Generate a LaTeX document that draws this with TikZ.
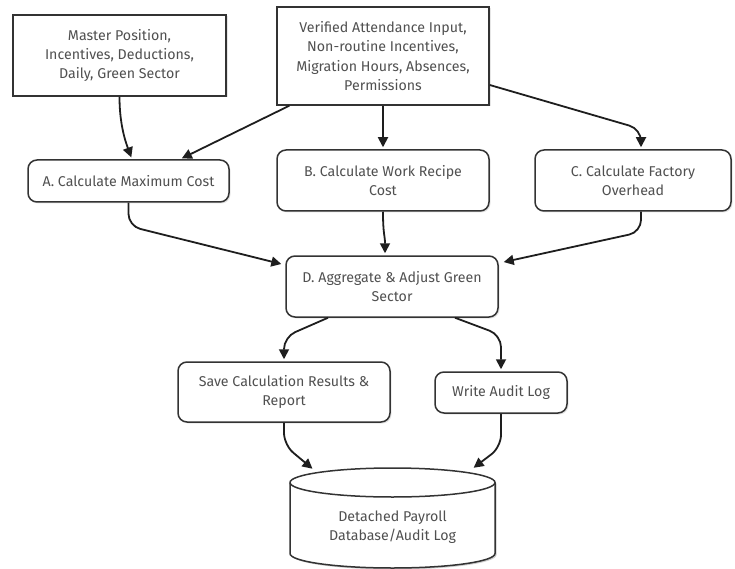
\documentclass[tikz,border=0pt]{standalone}
\usepackage{fontspec}
\setmainfont{Fira Sans}
\usetikzlibrary{arrows.meta,shadows}
\definecolor{txt}{HTML}{505050}
\definecolor{edge}{HTML}{1E1E1E}
\definecolor{frame}{HTML}{333333}
\begin{document}
\begin{tikzpicture}[x=1pt,y=-1pt,
  every node/.style={font=\fontsize{14.2}{19.2}\selectfont, text=txt, align=center, inner sep=0pt},
  datain/.style={draw=frame, line width=1.5pt, fill=white, rectangle,
    drop shadow={opacity=0.2, shadow xshift=1.5pt, shadow yshift=-1.5pt}},
  proc/.style={draw=frame, line width=1.5pt, fill=white, rectangle, rounded corners=9pt,
    drop shadow={opacity=0.2, shadow xshift=1.5pt, shadow yshift=-1.5pt}},
  flow/.style={draw=edge, line width=1.8pt, rounded corners=12pt, shorten >=2pt,
    -{Triangle[length=10pt,width=10pt]}}]
\useasboundingbox (0,0) rectangle (735,569);

% inputs
\node[datain, minimum width=213pt, minimum height=81pt] (M) at (119.5,55.5)
  {Master Position,\\Incentives, Deductions,\\Daily, Green Sector};
\node[datain, minimum width=212pt, minimum height=98pt] (V) at (383,56)
  {Verified Attendance Input,\\Non-routine Incentives,\\Migration Hours, Absences,\\Permissions};

% calculation steps
\node[proc, minimum width=201pt, minimum height=42pt] (A) at (128.5,181)
  {A. Calculate Maximum Cost};
\node[proc, minimum width=212pt, minimum height=61pt] (B) at (383,180.5)
  {B. Calculate Work Recipe\\Cost};
\node[proc, minimum width=196pt, minimum height=61pt] (C) at (633,180.5)
  {C. Calculate Factory\\Overhead};
\node[proc, minimum width=212pt, minimum height=61pt] (D) at (392,286.5)
  {D. Aggregate \& Adjust Green\\Sector};

% outputs
\node[proc, minimum width=212pt, minimum height=60pt] (S) at (284,392)
  {Save Calculation Results \&\\Report};
\node[proc, minimum width=132pt, minimum height=41pt] (W) at (501,392.5)
  {Write Audit Log};

% storage cylinder (y grows downwards here, so arcs through 90 degrees bulge down)
\fill[black, opacity=0.2] (291.5,484) -- (291.5,555) arc[start angle=180, end angle=0, x radius=102.5, y radius=14.5]
  -- (496.5,484) arc[start angle=0, end angle=-180, x radius=102.5, y radius=14.5] -- cycle;
\filldraw[draw=frame, fill=white, line width=1.5pt]
  (290,482.5) -- (290,553.5) arc[start angle=180, end angle=0, x radius=102.5, y radius=14.5]
  -- (495,482.5) arc[start angle=0, end angle=-180, x radius=102.5, y radius=14.5] -- cycle;
\draw[draw=frame, line width=1.5pt] (290,482.5) arc[start angle=180, end angle=0, x radius=102.5, y radius=14.5];
\node (DB) at (392.5,527) {Detached Payroll\\Database/Audit Log};
\coordinate (DBl) at (314,470);
\coordinate (DBr) at (472,469);

% connectors
\draw[flow] (M.south) .. controls (119.5,118) and (123,135) .. ([xshift=3.5pt]A.north);
\draw[flow] ([xshift=13pt]V.south west) -- ([xshift=51.5pt]A.north);
\draw[flow] (V.south) -- (B.north);
\draw[flow] ([yshift=-29pt]V.east) -- (641,129) -- ([xshift=8pt]C.north);

\draw[flow] (A.south) -- (128.5,226) -- ([xshift=-2pt,yshift=22pt]D.west);
\draw[flow] (B.south) .. controls (383,235) and (385,235) .. ([xshift=-7pt]D.north);
\draw[flow] ([xshift=8pt]C.south) -- (641,232) -- ([xshift=3pt,yshift=24pt]D.east);

\draw[flow] ([xshift=-64pt]D.south) -- (284,337) -- (S.north);
\draw[flow] ([xshift=63pt]D.south) -- (501,335) -- (W.north);

\draw[flow] (S.south) -- (284,445) -- (DBl);
\draw[flow] (W.south) -- (501,447) -- (DBr);
\end{tikzpicture}
\end{document}
